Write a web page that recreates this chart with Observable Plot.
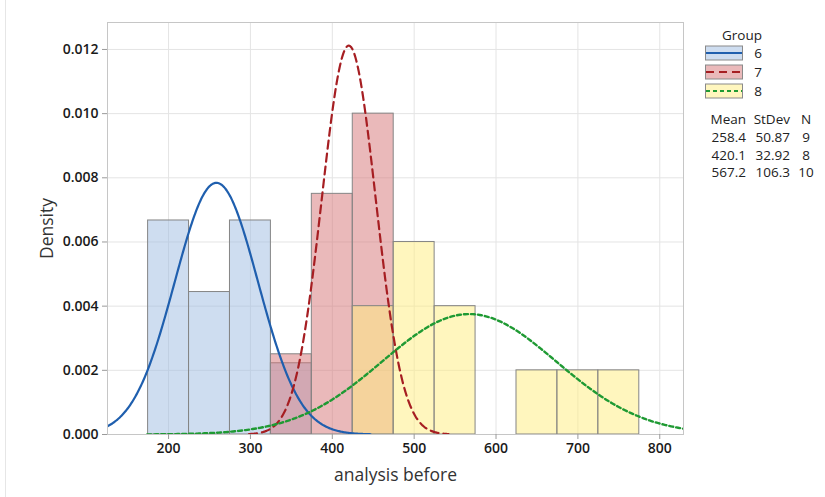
<!DOCTYPE html>
<html><head><meta charset="utf-8">
<script src="https://cdn.jsdelivr.net/npm/d3@7"></script>
<script src="https://cdn.jsdelivr.net/npm/@observablehq/plot@0.6"></script>
<style>
body{margin:0;background:#fff;}
#wrap{position:relative;width:825px;height:497px;}
</style></head><body><div id="wrap"></div>
<script>
// ---- data ----
const groups = ["6", "7", "8"];
const binWidth = 50;
const binStarts6 = [175, 225, 275, 325];
const density6 = [0.00667, 0.00444, 0.00667, 0.00222];
const binStarts7 = [325, 375, 425];
const density7 = [0.0025, 0.0075, 0.0100];
const binStarts8 = [425, 475, 525, 625, 675, 725];
const density8 = [0.0040, 0.0060, 0.0040, 0.0020, 0.0020, 0.0020];
const means = [258.4, 420.1, 567.2];
const stdevs = [50.87, 32.92, 106.3];
const ns = [9, 8, 10];
const meanLabels = ["258.4", "420.1", "567.2"];
const sdLabels = ["50.87", "32.92", "106.3"];
const xTicks = [200, 300, 400, 500, 600, 700, 800];
const yTicks = [0, 0.002, 0.004, 0.006, 0.008, 0.010, 0.012];

// ---- styles ----
const fills = ["#9dbbe1", "#d57375", "#ffed7d"];
const fillOpacity = 0.5;
const lineColors = ["#1f5fae", "#a61e22", "#1f9a33"];
const dashes = [null, "8,5", "4,3"];
const xDomain = [125.4, 829];
const yDomain = [0, 0.01284];

const bins = [];
[[binStarts6, density6], [binStarts7, density7], [binStarts8, density8]].forEach(([s, d], gi) => {
  s.forEach((x, i) => bins.push({group: groups[gi], gi, x1: x, x2: x + binWidth, y: d[i]}));
});

// fitted normal curves defined by the legend's Mean and StDev
const curves = groups.map((g, gi) => {
  const m = means[gi], s = stdevs[gi];
  const lo = Math.max(xDomain[0], m - 3.7 * s), hi = Math.min(xDomain[1], m + 3.7 * s);
  const pts = [];
  const n = 300;
  for (let k = 0; k <= n; k++) {
    const x = lo + (hi - lo) * k / n;
    pts.push({x, y: Math.exp(-0.5 * ((x - m) / s) ** 2) / (s * Math.sqrt(2 * Math.PI))});
  }
  return pts;
});

const font = "'Open Sans', 'Noto Sans', sans-serif";

const marks = [
  Plot.gridX(xTicks, {stroke: "#e4e4e4", strokeOpacity: 1}),
  Plot.gridY(yTicks.slice(1), {stroke: "#e4e4e4", strokeOpacity: 1}),
];
groups.forEach((g, gi) => {
  marks.push(Plot.rect(bins.filter(b => b.gi === gi), {
    x1: "x1", x2: "x2", y1: 0, y2: "y",
    fill: fills[gi], fillOpacity, stroke: "#858585", strokeWidth: 1
  }));
});
groups.forEach((g, gi) => {
  marks.push(Plot.line(curves[gi], {
    x: "x", y: "y", stroke: lineColors[gi], strokeWidth: gi === 2 ? 2.4 : 2.2,
    strokeDasharray: dashes[gi], clip: true
  }));
});
marks.push(Plot.frame({stroke: "#c6c6c6", strokeWidth: 1}));
marks.push(Plot.axisX(xTicks, {
  tickSize: 5, tickPadding: 4, stroke: "#9a9a9a", fill: "#1a1a1a", fontSize: 14, fontWeight: 600,
  label: "analysis before", labelAnchor: "center", labelOffset: 46, labelArrow: "none"
}));
marks.push(Plot.axisY(yTicks, {
  tickSize: 5, tickPadding: 4, stroke: "#9a9a9a", fill: "#1a1a1a", fontSize: 14, fontWeight: 600,
  tickFormat: d3.format(".3f"),
  label: "Density", labelAnchor: "center", labelOffset: 67, labelArrow: "none"
}));

const chart = Plot.plot({
  width: 825, height: 497,
  marginLeft: 107, marginRight: 142, marginTop: 22, marginBottom: 63,
  x: {domain: xDomain, label: "analysis before", labelArrow: "none"},
  y: {domain: yDomain, label: "Density", labelArrow: "none"},
  style: {fontFamily: font, fontSize: "14px", background: "#fff", color: "#1a1a1a"},
  marks
});
document.getElementById("wrap").appendChild(chart);

// axis label styling
d3.select(chart).selectAll("[aria-label='x-axis label'], [aria-label='y-axis label']")
  .attr("font-size", 17.5).attr("font-weight", 500).attr("fill", "#333");
d3.select(chart).selectAll("[aria-label='x-axis label'] text, [aria-label='y-axis label'] text")
  .attr("font-size", 17.5).attr("font-weight", 500).attr("fill", "#333");

// ---- legend ----
const svg = d3.select(chart);
svg.append("line").attr("x1", 5.5).attr("x2", 5.5).attr("y1", 0).attr("y2", 497)
  .attr("stroke", "#e6e6e6");
const lg = svg.append("g").attr("font-family", font).attr("font-size", 13.5).attr("fill", "#222");
lg.append("text").attr("x", 762).attr("y", 40).attr("text-anchor", "end").text("Group");
groups.forEach((g, gi) => {
  const cy = 53 + gi * 19;
  lg.append("rect").attr("x", 705.5).attr("y", cy - 7).attr("width", 37).attr("height", 14)
    .attr("fill", fills[gi]).attr("fill-opacity", fillOpacity).attr("stroke", "#8a8a8a");
  lg.append("line").attr("x1", 706).attr("x2", 742).attr("y1", cy).attr("y2", cy)
    .attr("stroke", lineColors[gi]).attr("stroke-width", 2.2)
    .attr("stroke-dasharray", dashes[gi]);
  lg.append("text").attr("x", 762).attr("y", cy + 5).attr("text-anchor", "end").text(g);
});
const hy = 124;
lg.append("text").attr("x", 746).attr("y", hy).attr("text-anchor", "end").text("Mean");
lg.append("text").attr("x", 790).attr("y", hy).attr("text-anchor", "end").text("StDev");
lg.append("text").attr("x", 806).attr("y", hy).attr("text-anchor", "middle").text("N");
groups.forEach((g, gi) => {
  const y = hy + 18 + gi * 17.5;
  lg.append("text").attr("x", 746).attr("y", y).attr("text-anchor", "end").text(meanLabels[gi]);
  lg.append("text").attr("x", 790).attr("y", y).attr("text-anchor", "end").text(sdLabels[gi]);
  lg.append("text").attr("x", 806).attr("y", y).attr("text-anchor", "middle").text(String(ns[gi]));
});
</script></body></html>
